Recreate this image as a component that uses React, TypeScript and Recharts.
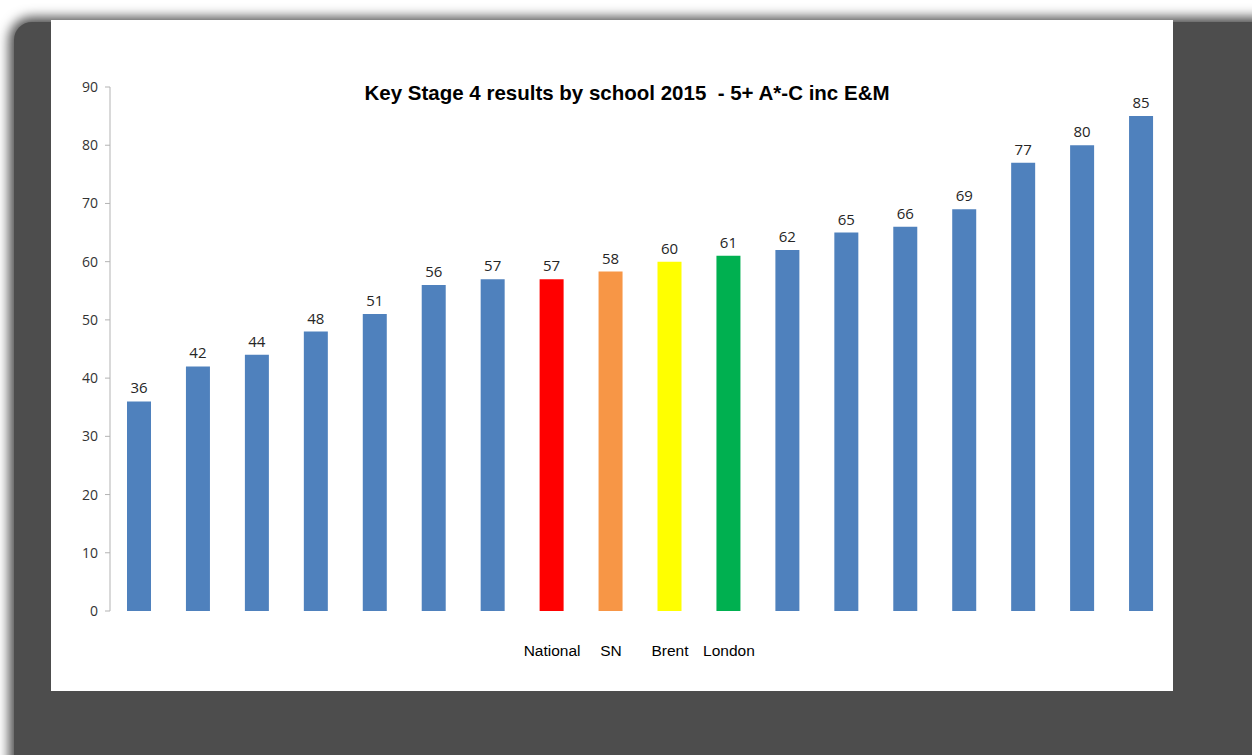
import { BarChart, Bar, XAxis, YAxis, Cell, LabelList } from 'recharts';

const categories = ['', '', '', '', '', '', '', 'National', 'SN', 'Brent', 'London', '', '', '', '', '', '', ''];
const results = [36, 42, 44, 48, 51, 56, 57, 57, 58.3, 60, 61, 62, 65, 66, 69, 77, 80, 85];
const labels = ['36', '42', '44', '48', '51', '56', '57', '57', '58', '60', '61', '62', '65', '66', '69', '77', '80', '85'];
const barColors = [
  '#4f81bd', '#4f81bd', '#4f81bd', '#4f81bd', '#4f81bd', '#4f81bd', '#4f81bd',
  '#ff0000', '#f79646', '#ffff00', '#00b050',
  '#4f81bd', '#4f81bd', '#4f81bd', '#4f81bd', '#4f81bd', '#4f81bd', '#4f81bd',
];
const yTicks = [0, 10, 20, 30, 40, 50, 60, 70, 80, 90];

const data = categories.map((name, i) => ({ name, value: results[i], label: labels[i] }));

export default function App() {
  return (
    <div style={{ position: 'fixed', left: 0, top: 0, width: 1252, height: 755, background: '#ffffff', overflow: 'hidden' }}>
      {/* dark backdrop with soft edge */}
      <div
        style={{
          position: 'absolute', left: 14, top: 22, width: 1300, height: 800,
          background: '#4d4d4d', borderRadius: 18, boxShadow: '0 0 12px 5px #4d4d4d',
        }}
      />
      <div style={{ position: 'absolute', left: 51, top: 20, width: 1122, height: 671, background: '#fff' }}>
        <div
          style={{
            position: 'absolute', left: 0, width: 1152, top: 61, textAlign: 'center',
            fontFamily: '"Liberation Sans", Arial, sans-serif', fontWeight: 'bold', fontSize: 20.5, color: '#000',
          }}
        >
          Key Stage 4 results by school 2015&nbsp; - 5+ A*-C inc E&amp;M
        </div>
        <BarChart width={1122} height={671} data={data} margin={{ top: 67, right: 2, bottom: 50, left: 0 }}>
          <XAxis
            dataKey="name"
            axisLine={false}
            tickLine={false}
            interval={0}
            tickMargin={28}
            height={30}
            tick={{ fontFamily: '"Liberation Sans", Arial, sans-serif', fontSize: 15.5, fill: '#000' }}
          />
          <YAxis
            width={59}
            domain={[0, 90]}
            ticks={yTicks}
            axisLine={{ stroke: '#b3b3b3' }}
            tickLine={{ stroke: '#b3b3b3' }}
            tickSize={5}
            tickMargin={7}
            tick={{ fontFamily: '"Open Sans", sans-serif', fontSize: 14, fill: '#333333' }}
          />
          <Bar dataKey="value" barSize={24} isAnimationActive={false}>
            {data.map((d, i) => (
              <Cell key={i} fill={barColors[i]} />
            ))}
            <LabelList
              dataKey="label"
              position="top"
              offset={8}
              style={{ fontFamily: '"Open Sans", sans-serif', fontSize: 15, fill: '#262626' }}
            />
          </Bar>
        </BarChart>
      </div>
    </div>
  );
}
